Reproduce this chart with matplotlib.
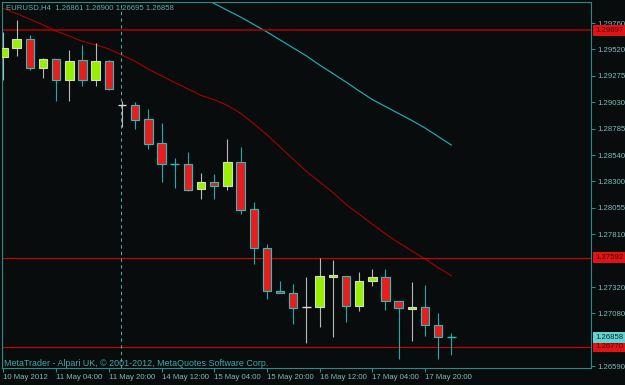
import numpy as np
import matplotlib.pyplot as plt
from matplotlib.patches import Rectangle
from matplotlib.transforms import blended_transform_factory

plt.rcParams['font.family'] = ['Liberation Sans', 'DejaVu Sans']

# EURUSD H4, 10 May 2012 12:00 .. 18 May 2012 04:00
o = [1.29451, 1.29529, 1.29615, 1.29347, 1.29427, 1.29238, 1.29418, 1.29238, 1.29411, 1.29004,
     1.29004, 1.28872, 1.28650, 1.28456, 1.28456, 1.28227, 1.28289, 1.28258, 1.28480, 1.28040,
     1.27679, 1.27284, 1.27263, 1.27133, 1.27133, 1.27416, 1.27425, 1.27148, 1.27379, 1.27413,
     1.27194, 1.27120, 1.27136, 1.26967, 1.26861]
h = [1.29682, 1.29791, 1.29652, 1.29442, 1.29430, 1.29513, 1.29559, 1.29575, 1.29421, 1.29041,
     1.29029, 1.28967, 1.28835, 1.28511, 1.28567, 1.28373, 1.28366, 1.28687, 1.28619, 1.28110,
     1.27719, 1.27376, 1.27349, 1.27416, 1.27586, 1.27571, 1.27425, 1.27462, 1.27487, 1.27487,
     1.27194, 1.27364, 1.27337, 1.27078, 1.26900]
l = [1.29236, 1.29460, 1.29328, 1.29251, 1.29041, 1.29041, 1.29183, 1.29183, 1.29143, 1.28798,
     1.28780, 1.28597, 1.28295, 1.28239, 1.28209, 1.28135, 1.28135, 1.28218, 1.27996, 1.27531,
     1.27210, 1.27263, 1.26976, 1.26800, 1.26948, 1.26861, 1.27000, 1.27102, 1.27333, 1.27108,
     1.26658, 1.26821, 1.26870, 1.26655, 1.26695]
c = [1.29529, 1.29615, 1.29344, 1.29427, 1.29238, 1.29411, 1.29238, 1.29411, 1.29152, 1.29005,
     1.28866, 1.28644, 1.28456, 1.28455, 1.28218, 1.28289, 1.28258, 1.28480, 1.28033, 1.27679,
     1.27287, 1.27263, 1.27124, 1.27134, 1.27423, 1.27432, 1.27148, 1.27379, 1.27413, 1.27194,
     1.27124, 1.27139, 1.26969, 1.26856, 1.26858]

ma_red = [1.29898, 1.29849, 1.29799, 1.29746, 1.29688, 1.29642, 1.29593, 1.29561, 1.29523, 1.29466,
          1.29409, 1.29335, 1.29274, 1.29213, 1.29153, 1.29093, 1.29053, 1.29001, 1.28928, 1.28831,
          1.28729, 1.28616, 1.28503, 1.28390, 1.28294, 1.28196, 1.28086, 1.27995, 1.27903, 1.27813,
          1.27730, 1.27655, 1.27580, 1.27501, 1.27425]
ma_cyan = [np.nan] * 15 + [1.30005, 1.29943, 1.29880, 1.29818, 1.29749, 1.29680, 1.29606, 1.29532,
                           1.29458, 1.29374, 1.29296, 1.29217, 1.29134, 1.29055, 1.28990, 1.28926,
                           1.28861, 1.28792, 1.28713, 1.28634]

hlines = [1.29697, 1.27592, 1.26770]
bid = 1.26858
sep_idx = 9  # first bar of 14 May (week separator)

xtick_idx = [0, 4, 8, 12, 16, 20, 24, 28, 32]
xtick_lab = ['10 May 2012', '11 May 04:00', '11 May 20:00', '14 May 12:00', '15 May 04:00',
             '15 May 20:00', '16 May 12:00', '17 May 04:00', '17 May 20:00']
ytick_val = [1.29760, 1.29520, 1.29275, 1.29030, 1.28785, 1.28540, 1.28300, 1.28055,
             1.27810, 1.27320, 1.27080, 1.26590]

bg = '#080c0c'
frame = '#2c8a8a'
txt = '#7ebaba'
up_fc, up_ec = '#96f000', '#d8d8d8'
dn_fc, dn_ec = '#e81e1e', '#1cc4c4'

fig = plt.figure(figsize=(6.25, 3.85), dpi=100, facecolor=bg)
ax = fig.add_axes([2/625, 17/385, 589/625, 366/385])
ax.set_facecolor(bg)

n = len(o)
x = np.arange(n)
w = 0.64
for i in range(n):
    up = c[i] >= o[i]
    ec = up_ec if up else dn_ec
    wc = '#b8b8b8' if up else '#1aaeae'
    ax.vlines(i, l[i], h[i], color=wc, lw=0.8, zorder=2)
    if abs(c[i] - o[i]) < 0.00005:
        ax.hlines(o[i], i - w/2, i + w/2, color=ec, lw=1.0, zorder=3)
    else:
        ax.add_patch(Rectangle((i - w/2, min(o[i], c[i])), w, abs(c[i] - o[i]),
                               fc=up_fc if up else dn_fc, ec=ec, lw=0.8, zorder=3))

ax.plot(x, ma_red, color='#a80000', lw=0.8, zorder=1)
ax.plot(x, ma_cyan, color='#22b4c4', lw=0.8, zorder=1)

ax.axhline(hlines[0], color='#b00000', lw=1.1, zorder=1)
for p in hlines[1:]:
    ax.axhline(p, color='#d40000', lw=0.8, zorder=1)
ax.axvline(sep_idx - 0.05, color='#52a4a4', lw=0.8, dashes=(3, 3), zorder=1)

ax.set_xlim(-0.11, 44.6)
ax.set_ylim(1.26572, 1.29957)

for s in ax.spines.values():
    s.set_color(frame)
    s.set_linewidth(0.8)

ax.yaxis.tick_right()
ax.set_yticks(ytick_val)
ax.set_yticklabels(['%.5f' % v for v in ytick_val])
ax.set_xticks(xtick_idx)
ax.set_xticklabels(xtick_lab, ha='left')
ax.tick_params(axis='both', direction='out', length=3, width=0.8, color=frame,
               labelcolor=txt, labelsize=5.6)
ax.tick_params(axis='y', pad=1.5)
ax.tick_params(axis='x', pad=1.5)

tr = blended_transform_factory(ax.transAxes, ax.transData)
for p in hlines:
    ax.text(1.0068, p, '%.5f' % p, transform=tr, ha='left', va='center', fontsize=5.6,
            color='#500000', bbox=dict(boxstyle='square,pad=0.25', fc='#e01414', ec='none'))
ax.text(1.0068, bid, '%.5f' % bid, transform=tr, ha='left', va='center', fontsize=5.6,
        color='#0a3030', bbox=dict(boxstyle='square,pad=0.25', fc='#62d2d2', ec='none'))

fig.text(6/625, 1 - 8/385, 'EURUSD,H4  %.5f %.5f %.5f %.5f' % (o[-1], h[-1], l[-1], c[-1]),
         color='#5aaeae', fontsize=5.6, va='center', ha='left')
fig.text(4/625, 1 - 363/385, 'MetaTrader - Alpari UK, \u00a9 2001-2012, MetaQuotes Software Corp.',
         color='#40a8a8', fontsize=6.4, va='center', ha='left')

plt.savefig('out.png', dpi=100, facecolor=bg)
